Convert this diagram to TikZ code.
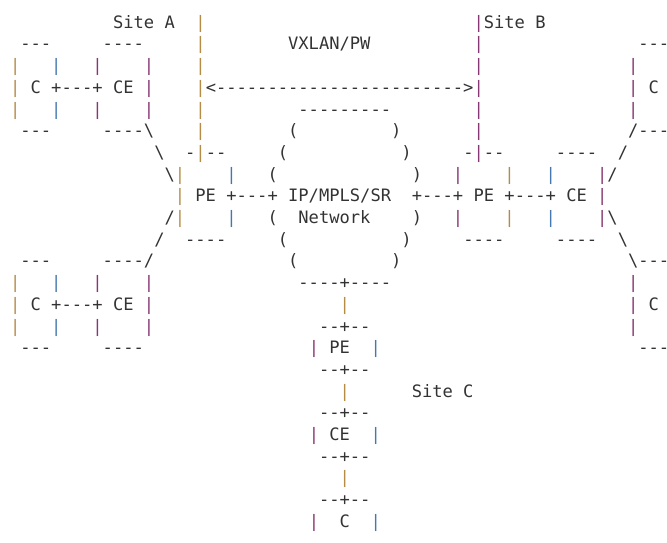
\documentclass[tikz,border=0pt]{standalone}
\usepackage{fontspec}
\newfontfamily\asciifont{DejaVu Sans Mono}[Ligatures=TeXOff]
\usetikzlibrary{positioning}
\definecolor{ink}{RGB}{51,51,51}
\definecolor{pgold}{RGB}{181,140,70}
\definecolor{pblue}{RGB}{70,120,175}
\definecolor{ppurp}{RGB}{135,55,115}
\tikzset{
  ascii/.style={font=\asciifont\fontsize{17.1}{20}\selectfont, inner sep=0pt, anchor=base west, text=ink},
  pipe/.style={ascii, text=#1},
}

\begin{document}
\begin{tikzpicture}[x=10.3pt, y=-21.7pt]
  \useasboundingbox (-0.956,-1.302) rectangle (63.80,23.72);

  % Site labels and the tunnel between the PEs
  \node[ascii] (sitea) at (10,0) {Site A};
  \node[ascii] (siteb) at (46,0) {Site B};
  \node[ascii] (sitec) at (39,17) {Site C};
  \node[ascii] (vxlan) at (27,1) {VXLAN/PW};
  \node[ascii] (tunnel) at (19,3) {<------------------------>};
  \foreach \r in {0,...,6} {
    \node[pipe=pgold] (linea\r) at (18,\r) {|};
    \node[pipe=ppurp] (lineb\r) at (45,\r) {|};
  }

  % Site A: two C/CE pairs on the left
  \foreach \o/\s in {0/up,10/lo} {
    \node[ascii] (ctop\s) at (1,\o+1) {---};
    \node[ascii] (cbot\s) at (1,\o+5) {---};
    \node[ascii] (c\s) at (2,\o+3) {C};
    \node[ascii] (clink\s) at (4,\o+3) {+---+};
    \node[ascii] (ce\s) at (10,\o+3) {CE};
    \foreach \d in {2,3,4} {
      \node[pipe=pgold] (cl\s\d) at (0,\o+\d) {|};
      \node[pipe=ppurp] (cer\s\d) at (13,\o+\d) {|};
    }
    \foreach \d in {2,4} {
      \node[pipe=pblue] (cr\s\d) at (4,\o+\d) {|};
      \node[pipe=ppurp] (cel\s\d) at (8,\o+\d) {|};
    }
  }
  \node[ascii] (cetopup) at (9,1) {----};
  \node[ascii] (cebotup) at (9,5) {----\textbackslash};
  \node[ascii] (cetoplo) at (9,11) {----/};
  \node[ascii] (cebotlo) at (9,15) {----};
  \foreach \c/\r in {14/6,15/7} \node[ascii] (bsa\r) at (\c,\r) {\textbackslash};
  \foreach \c/\r in {15/9,14/10} \node[ascii] (fsa\r) at (\c,\r) {/};

  % Left PE
  \node[ascii] (petopa) at (17,6) {-};
  \node[ascii] (petopb) at (19,6) {--};
  \node[ascii] (pea) at (18,8) {PE};
  \node[ascii] (pebota) at (17,10) {----};
  \foreach \r in {7,8,9} \node[pipe=pgold] (pela\r) at (16,\r) {|};
  \foreach \r in {7,9} \node[pipe=pblue] (pera\r) at (21,\r) {|};
  \node[ascii] (linkpea) at (21,8) {+---+};

  % IP/MPLS/SR cloud
  \node[ascii] (cloudtop) at (28,4) {---------};
  \foreach \l/\rt/\r in {27/37/5,26/38/6,25/39/7,25/39/9,26/38/10,27/37/11} {
    \node[ascii] (cloudl\r) at (\l,\r) {(};
    \node[ascii] (cloudr\r) at (\rt,\r) {)};
  }
  \node[ascii] (core) at (27,8) {IP/MPLS/SR};
  \node[ascii] (network) at (28,9) {Network};
  \node[ascii] (cloudbot) at (28,12) {----+----};

  % Site B: PE, CE and two C
  \node[ascii] (linkpeb) at (39,8) {+---+};
  \node[ascii] (petopc) at (44,6) {-};
  \node[ascii] (petopd) at (46,6) {--};
  \node[ascii] (peb) at (45,8) {PE};
  \node[ascii] (pebotb) at (44,10) {----};
  \foreach \r in {7,9} {
    \node[pipe=ppurp] (pelb\r) at (43,\r) {|};
    \node[pipe=pgold] (perb\r) at (48,\r) {|};
    \node[pipe=pblue] (celb\r) at (52,\r) {|};
  }
  \node[ascii] (linkceb) at (48,8) {+---+};
  \node[ascii] (cetopb) at (53,6) {----};
  \node[ascii] (ceb) at (54,8) {CE};
  \node[ascii] (cebotb) at (53,10) {----};
  \foreach \r in {7,8,9} \node[pipe=ppurp] (cerb\r) at (57,\r) {|};
  \foreach \c/\r in {59/6,58/7} \node[ascii] (fsb\r) at (\c,\r) {/};
  \foreach \c/\r in {58/9,59/10} \node[ascii] (bsb\r) at (\c,\r) {\textbackslash};
  \node[ascii] (ctopbu) at (61,1) {---};
  \node[ascii] (cbu) at (62,3) {C};
  \node[ascii] (cbotbu) at (60,5) {/---};
  \node[ascii] (ctopbl) at (60,11) {\textbackslash---};
  \node[ascii] (cbl) at (62,13) {C};
  \node[ascii] (cbotbl) at (61,15) {---};
  \foreach \r in {2,3,4,12,13,14} \node[pipe=ppurp] (clb\r) at (60,\r) {|};

  % Site C: PE, CE and C stacked below the cloud
  \foreach \r in {14,16,18,20,22} \node[ascii] (tap\r) at (30,\r) {--+--};
  \foreach \r in {13,17,21} \node[pipe=pgold] (drop\r) at (32,\r) {|};
  \foreach \t/\c/\r in {PE/31/15,CE/31/19,C/32/23} {
    \node[pipe=ppurp] (boxl\r) at (29,\r) {|};
    \node[ascii] (box\r) at (\c,\r) {\t};
    \node[pipe=pblue] (boxr\r) at (35,\r) {|};
  }
\end{tikzpicture}
\end{document}
